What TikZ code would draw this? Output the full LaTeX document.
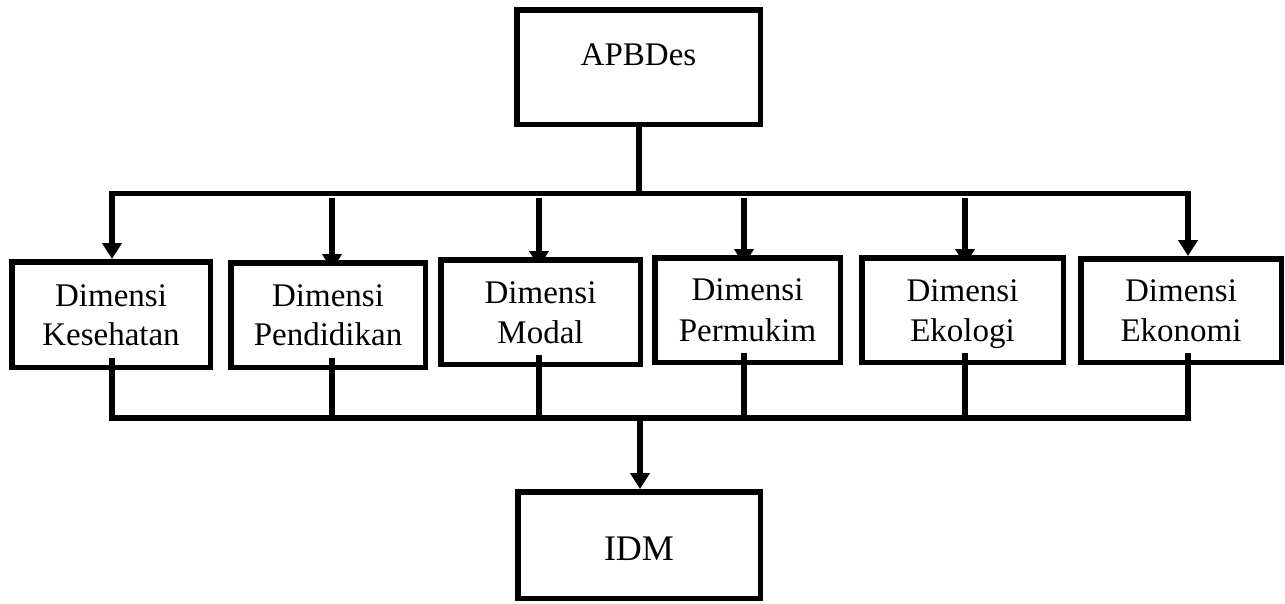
\documentclass[tikz,border=0pt]{standalone}
\usepackage{fontspec}
\setmainfont{Liberation Serif}
\usetikzlibrary{arrows.meta,calc}
\pgfdeclarelayer{bg}
\pgfsetlayers{bg,main}
\begin{document}
\begin{tikzpicture}[x=1pt,y=-1pt,
  box/.style={draw, line width=5.5pt, fill=white, inner sep=0pt},
  conn/.style={line width=5.5pt},
  tip/.tip={Triangle[width=19pt,length=16pt]},
  arr/.style={conn, -tip},
  lbl/.style={anchor=base, inner sep=0pt, font=\fontsize{33}{40}\selectfont}]
\useasboundingbox (0,0) rectangle (1285,603);

% boxes
\node[box, minimum width=243.5pt, minimum height=114.5pt] (apb) at (638.5,67) {};
\node[box, minimum width=198.5pt, minimum height=105.5pt] (b1) at (111,314.5) {};
\node[box, minimum width=194.5pt, minimum height=104.5pt] (b2) at (328,315) {};
\node[box, minimum width=199.5pt, minimum height=104.5pt] (b3) at (540.5,312) {};
\node[box, minimum width=185.5pt, minimum height=104.5pt] (b4) at (747.5,310) {};
\node[box, minimum width=201.5pt, minimum height=104.5pt] (b5) at (962.5,310) {};
\node[box, minimum width=200.5pt, minimum height=103.5pt] (b6) at (1181,310.5) {};
\node[box, minimum width=242.5pt, minimum height=106.5pt] (idm) at (639,545) {};

% texts
\node[lbl] (tapb) at (638.5,65) {APBDes};
\node[lbl] (t1a) at (111,306) {Dimensi};
\node[lbl] (t1b) at (111,345) {Kesehatan};
\node[lbl] (t2a) at (328,306) {Dimensi};
\node[lbl] (t2b) at (328,345) {Pendidikan};
\node[lbl] (t3a) at (540.5,303) {Dimensi};
\node[lbl] (t3b) at (540.5,343) {Modal};
\node[lbl] (t4a) at (747.5,300) {Dimensi};
\node[lbl] (t4b) at (747.5,341) {Permukim};
\node[lbl] (t5a) at (962.5,301) {Dimensi};
\node[lbl] (t5b) at (962.5,341) {Ekologi};
\node[lbl] (t6a) at (1181,301) {Dimensi};
\node[lbl] (t6b) at (1181,341) {Ekonomi};
\node[anchor=base, inner sep=0pt, font=\fontsize{36}{43}\selectfont] (tidm) at (639,560) {IDM};

% bus coordinates
\coordinate (tm) at (639,193.5);
\coordinate (t1) at (112,193.5);
\coordinate (t2) at (332,198);
\coordinate (t3) at (539,198);
\coordinate (t4) at (744,198);
\coordinate (t5) at (965,198);
\coordinate (t6) at (1188,193.5);
\coordinate (u1) at (112,418);
\coordinate (u2) at (332,418);
\coordinate (u3) at (539,418);
\coordinate (u4) at (744,418);
\coordinate (u5) at (965,418);
\coordinate (u6) at (1188,418);
\coordinate (um) at (640,418);

% top distribution
\draw[conn] (apb.south -| tm) -- (tm);
\draw[conn, tip-tip] (t1 |- b1.north) -- (t1) -- (t6) -- (t6 |- b6.north);
\begin{pgfonlayer}{bg}
\draw[arr] (t2) -- ($(t2 |- b2.north)+(0,10)$);
\draw[arr] (t3) -- ($(t3 |- b3.north)+(0,10)$);
\draw[arr] (t4) -- ($(t4 |- b4.north)+(0,10)$);
\draw[arr] (t5) -- ($(t5 |- b5.north)+(0,10)$);
\end{pgfonlayer}

% bottom collection
\draw[conn] ($(u1 |- b1.south)+(0,-12)$) -- (u1) -- (u6) -- ($(u6 |- b6.south)+(0,-12)$);
\draw[conn] ($(u2 |- b2.south)+(0,-12)$) -- (u2);
\draw[conn] ($(u3 |- b3.south)+(0,-12)$) -- (u3);
\draw[conn] ($(u4 |- b4.south)+(0,-12)$) -- (u4);
\draw[conn] ($(u5 |- b5.south)+(0,-12)$) -- (u5);
\draw[arr] (um) -- (um |- idm.north);
\end{tikzpicture}
\end{document}
